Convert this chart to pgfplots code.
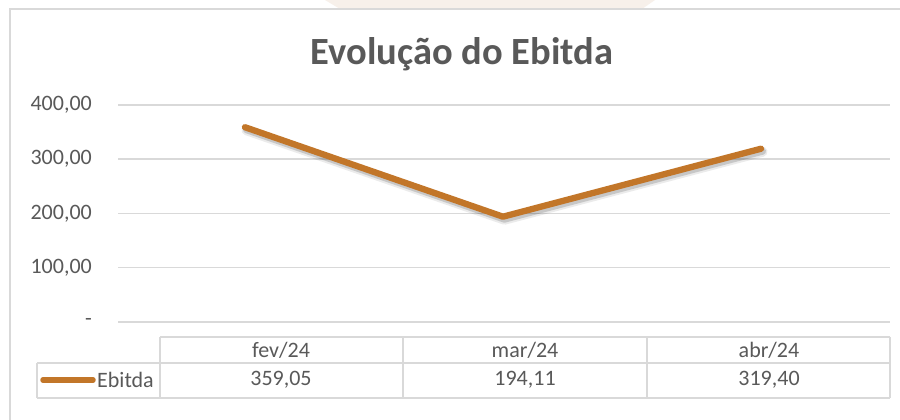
\documentclass[border=0pt]{standalone}
\usepackage{pgfplots}
\pgfplotsset{compat=1.18}
\usepackage{fontspec}
\setmainfont{Carlito}
\definecolor{ln}{HTML}{C27629}
\definecolor{gr}{HTML}{D9D9D9}
\definecolor{tx}{HTML}{595959}
\definecolor{wm}{HTML}{F7F0EA}
\begin{document}
\begin{tikzpicture}[x=1pt,y=1pt]
\useasboundingbox (0,0) rectangle (900,420);
\fill[white] (0,0) rectangle (900,420);
% watermark
\fill[wm] (325,420) -- (655,420) -- (642,411) -- (340,411) -- cycle;
% outer frame
\draw[gr,line width=1.6pt] (10,0) -- (10,411) -- (900,411);
% title
\node[font=\fontsize{38.5}{42}\selectfont\bfseries, text=tx] at (462,366) {Evolução do Ebitda};
\begin{axis}[
  at={(118pt,98pt)}, anchor=south west,
  scale only axis, width=772pt, height=217pt,
  xmin=-0.492, xmax=2.5, ymin=0, ymax=400,
  axis line style={draw=none},
  xtick=\empty,
  ytick={0,100,200,300,400},
  yticklabels={{-\hspace{14pt}},{100,00},{200,00},{300,00},{400,00}},
  yticklabel style={font=\fontsize{22}{24}\selectfont, text=tx, anchor=east, inner sep=0pt, xshift=-26pt},
  major tick length=0pt,
  ymajorgrids, grid style={gr, line width=1.5pt},
  clip=false,
]
\addplot[black, opacity=0.08, line width=10pt, line cap=round, line join=round, shift={(1.5pt,-3pt)}] coordinates {(0,359.05) (1,194.11) (2,319.40)};
\addplot[black, opacity=0.15, line width=7pt, line cap=round, line join=round, shift={(1.5pt,-2.5pt)}] coordinates {(0,359.05) (1,194.11) (2,319.40)};
\addplot[ln, line width=6.3pt, line cap=round, line join=round] coordinates {(0,359.05) (1,194.11) (2,319.40)};
\end{axis}
% data table
\begin{scope}[gr, line width=1.5pt]
\draw (160,83) -- (890,83);
\draw (37,57) -- (890,57);
\draw (37,22) -- (890,22);
\draw (37,57) -- (37,22);
\draw (160,83) -- (160,22);
\draw (403,83) -- (403,22);
\draw (647,83) -- (647,22);
\draw (890,83) -- (890,22);
\end{scope}
\begin{scope}[every node/.style={font=\fontsize{22}{24}\selectfont, text=tx, inner sep=0pt}]
\node at (281,70) {fev/24};
\node at (525,70) {mar/24};
\node at (769,70) {abr/24};
\node at (281,40) {359,05};
\node at (525,40) {194,11};
\node at (769,40) {319,40};
\node[anchor=west] at (97,40) {Ebitda};
\end{scope}
\draw[ln, line width=5.5pt, line cap=round] (43,40) -- (93,40);
\end{tikzpicture}
\end{document}
